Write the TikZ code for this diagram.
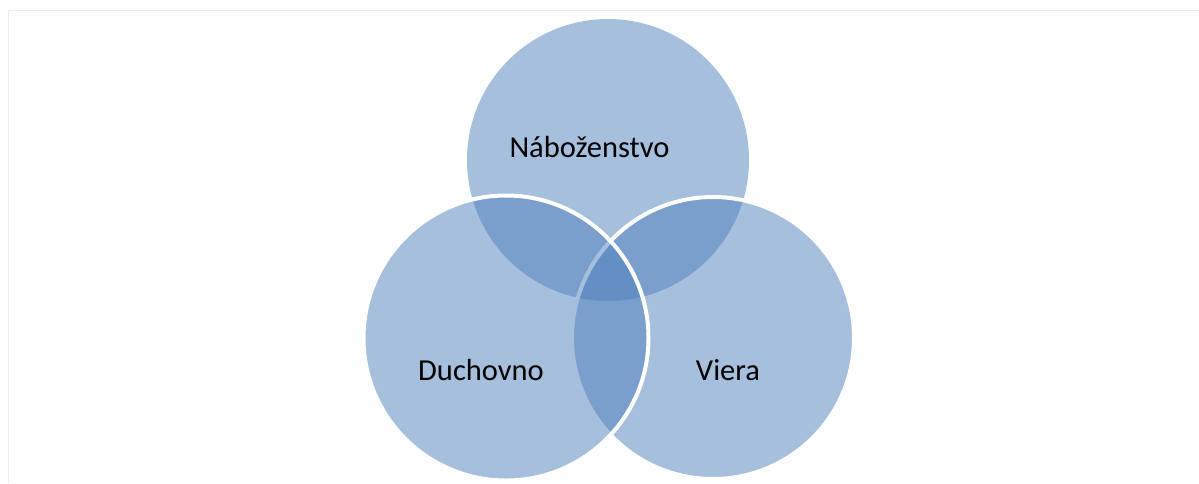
\documentclass[tikz,border=0pt]{standalone}
\usepackage{fontspec}
\setmainfont{Carlito}
\definecolor{accent}{HTML}{4F81BD}
\definecolor{frameline}{HTML}{ECECE8}
\begin{document}
\begin{tikzpicture}[x=1pt,y=-1pt,
  vcirc/.style={fill=accent,fill opacity=0.5,draw=white,line width=4pt,draw opacity=1},
  vlabel/.style={font=\fontsize{30.5}{34}\selectfont,text=black}]
\useasboundingbox (0,0) rectangle (1199,483);
\fill[white] (0,0) rectangle (1199,483);
\draw[frameline,line width=1.5pt] (8.5,483) -- (8.5,10.5) -- (1199,10.5);
% top circle
\fill[accent,fill opacity=0.5] (608,160) circle (141);
% right circle
\path[vcirc] (713,338) circle (141);
% left circle
\path[vcirc] (506,338) circle (142.5);
\node[vlabel] (rel) at (589.5,147) {Náboženstvo};
\node[vlabel] (duch) at (481,370) {Duchovno};
\node[vlabel] (viera) at (728,370) {Viera};
\end{tikzpicture}
\end{document}
